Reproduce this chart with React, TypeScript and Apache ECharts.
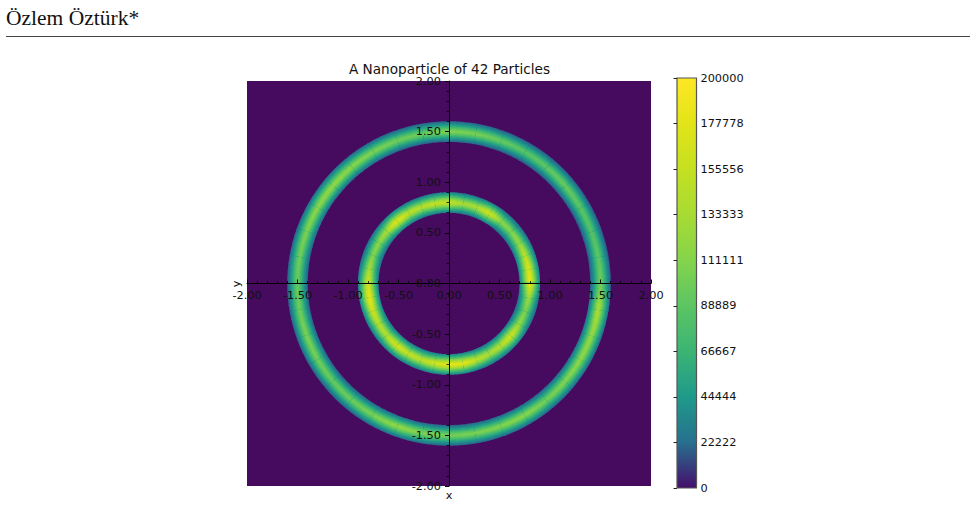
import React, { useEffect, useRef } from "react";
import * as echarts from "echarts";

const titleText = "A Nanoparticle of 42 Particles";
const authorText = "Özlem Öztürk*";
const colorbarTicks = [0, 22222, 44444, 66667, 88889, 111111, 133333, 155556, 177778, 200000];
const colorbarColors = ["#450f6c", "#27708e", "#1f9a8a", "#3bb474", "#5cc563", "#84d44b", "#a8db33", "#c5e021", "#e2e418", "#fde725"];

const ringRadii = [1.5, 0.8];
const ringHalfWidth = 0.102;
// crest density every 10 degrees, counter-clockwise from +x
const outerCrest = [
  100000, 92000, 86000, 90000, 98000, 92000, 88000, 96000, 106000, 110000, 100000, 102000,
  108000, 116000, 122000, 118000, 110000, 102000, 96000, 102000, 108000, 104000, 96000, 100000,
  108000, 122000, 112000, 104000, 108000, 112000, 116000, 104000, 112000, 120000, 124000, 140000,
];
const innerCrest = [
  186000, 176000, 150000, 125000, 112000, 118000, 168000, 138000, 134000, 158000, 155000, 145000, 152000, 180000,
  138000, 118000, 112000, 135000, 165000, 188000, 165000, 145000, 145000, 170000, 155000, 150000, 168000, 182000,
  182000, 152000, 136000, 146000, 166000, 125000, 108000, 128000,
];
// share of the crest density, from the ring's edge in towards its middle line
const radialShare = [0.2, 0.26, 0.33, 0.41, 0.5, 0.6, 0.7, 0.8, 0.89, 0.97];

const ringData = [outerCrest, innerCrest].flatMap((crest, ring) =>
  crest.map((value, i) => [ringRadii[ring], i * 10, value, crest[(i + 1) % crest.length]])
);

function colorOf(value: number): string {
  const v = Math.max(0, Math.min(200000, value));
  const n = colorbarTicks.length - 1;
  let k = 0;
  while (k < n - 1 && v > colorbarTicks[k + 1]) k++;
  const t = (v - colorbarTicks[k]) / (colorbarTicks[k + 1] - colorbarTicks[k]);
  return echarts.color.lerp(t, [colorbarColors[k], colorbarColors[k + 1]]) as string;
}

const subSteps = 4;

function renderRingCell(_p: any, api: any) {
  const radius = api.value(0);
  const start = api.value(1);
  const vA = api.value(2);
  const vB = api.value(3);
  const bands = radialShare.length;
  const children: any[] = [];
  // nested bands, painted widest first, so that no seams open between them
  for (let b = 0; b < bands; b++) {
    const half = ringHalfWidth * (1 - b / bands);
    const r0 = radius - half;
    const r1 = radius + half;
    for (let s = 0; s < subSteps; s++) {
      const a0 = ((start + (s * 10) / subSteps) * Math.PI) / 180;
      const a1 = ((start + ((s + 1) * 10) / subSteps + 0.5) * Math.PI) / 180;
      const am = (a0 + a1) / 2;
      const angles = [a0, am, a1];
      const pts = [
        ...angles.map((a) => api.coord([r1 * Math.cos(a), r1 * Math.sin(a)])),
        ...angles.reverse().map((a) => api.coord([r0 * Math.cos(a), r0 * Math.sin(a)])),
      ];
      const t = (s + 0.5) / subSteps;
      children.push({
        type: "polygon",
        shape: { points: pts },
        style: { fill: colorOf((vA + (vB - vA) * t) * radialShare[b]) },
      });
    }
  }
  return { type: "group", children };
}

function renderColorbar(_p: any, api: any) {
  const bottom = api.coord([0, api.value(0)]);
  const top = api.coord([1, api.value(1)]);
  return {
    type: "rect",
    shape: { x: bottom[0], y: top[1], width: top[0] - bottom[0], height: bottom[1] - top[1] },
    style: {
      fill: new echarts.graphic.LinearGradient(
        0, 1, 0, 0,
        colorbarTicks.map((t, i) => ({ offset: t / 200000, color: colorbarColors[i] }))
      ),
      stroke: "#555555",
      lineWidth: 1.2,
    },
  };
}

const axisFont = { fontFamily: "DejaVu Sans", fontSize: 11.3, color: "#111111" };

export default function App() {
  const ref = useRef<HTMLDivElement>(null);
  useEffect(() => {
    const chart = echarts.init(ref.current!, undefined, { renderer: "svg" });
    chart.setOption({
      animation: false,
      backgroundColor: "#ffffff",
      title: {
        text: titleText,
        left: 444.5,
        top: 57,
        textAlign: "center",
        textStyle: { fontFamily: "DejaVu Sans", fontSize: 13.6, fontWeight: "normal", color: "#111111" },
      },
      grid: [
        { left: 247, top: 81, width: 404, height: 405, show: true, backgroundColor: "#460b5e", borderWidth: 0 },
        { left: 677, top: 78, width: 19.5, height: 410 },
      ],
      xAxis: [
        {
          type: "value",
          gridIndex: 0,
          position: "bottom",
          offset: -202.5,
          min: -2,
          max: 2,
          interval: 0.5,
          z: 10,
          splitLine: { show: false },
          axisLine: { onZero: false, lineStyle: { color: "#000000", width: 1 } },
          axisTick: { inside: true, length: 4, lineStyle: { color: "#000000", width: 1 } },
          minorTick: { show: true, splitNumber: 5, length: 2.5, lineStyle: { color: "#000000", width: 0.8 } },
          axisLabel: { ...axisFont, margin: 6, showMinLabel: true, showMaxLabel: true, formatter: (v: number) => v.toFixed(2) },
        },
        { type: "value", gridIndex: 1, min: 0, max: 1, show: false },
      ],
      yAxis: [
        {
          type: "value",
          gridIndex: 0,
          position: "left",
          offset: -202,
          min: -2,
          max: 2,
          interval: 0.5,
          z: 10,
          splitLine: { show: false },
          axisLine: { onZero: false, lineStyle: { color: "#000000", width: 1 } },
          axisTick: { length: 4, lineStyle: { color: "#000000", width: 1 } },
          minorTick: { show: true, splitNumber: 5, length: 2.5, lineStyle: { color: "#000000", width: 0.8 } },
          axisLabel: { ...axisFont, margin: 8, showMinLabel: true, showMaxLabel: true, formatter: (v: number) => v.toFixed(2) },
        },
        {
          type: "value",
          gridIndex: 1,
          position: "right",
          min: 0,
          max: 200000,
          interval: 200000 / 9,
          z: 10,
          splitLine: { show: false },
          axisLine: { show: false },
          axisTick: { inside: true, length: 3.5, lineStyle: { color: "#222222", width: 1 } },
          axisLabel: { ...axisFont, margin: 4, padding: [2, 0, 0, 0], showMinLabel: true, showMaxLabel: true, formatter: (v: number) => String(Math.round(v)) },
        },
      ],
      series: [
        {
          type: "custom",
          name: "Density",
          xAxisIndex: 0,
          yAxisIndex: 0,
          coordinateSystem: "cartesian2d",
          clip: false,
          encode: { x: 0, y: 1 },
          data: ringData,
          renderItem: renderRingCell,
        },
        {
          type: "custom",
          name: "Colorbar",
          xAxisIndex: 1,
          yAxisIndex: 1,
          coordinateSystem: "cartesian2d",
          encode: { y: [0, 1] },
          data: [[colorbarTicks[0], colorbarTicks[colorbarTicks.length - 1]]],
          renderItem: renderColorbar,
        },
      ],
      graphic: [
        {
          type: "text",
          x: 6,
          y: 7,
          style: { text: authorText, fontFamily: "Liberation Serif", fontSize: 21.5, fill: "#111111" },
        },
        { type: "line", shape: { x1: 6, y1: 36.5, x2: 970, y2: 36.5 }, style: { stroke: "#444444", lineWidth: 1 } },
        { type: "text", x: 449, y: 495, style: { text: "x", fontFamily: "DejaVu Sans", fontSize: 11.3, fill: "#111111", align: "center", verticalAlign: "middle" } },
        { type: "text", x: 236, y: 284, rotation: Math.PI / 2, style: { text: "y", fontFamily: "DejaVu Sans", fontSize: 11.3, fill: "#111111", align: "center", verticalAlign: "middle" } },
      ],
    });
    return () => chart.dispose();
  }, []);
  return <div ref={ref} style={{ position: "fixed", left: 0, top: 0, width: 977, height: 505 }} />;
}
